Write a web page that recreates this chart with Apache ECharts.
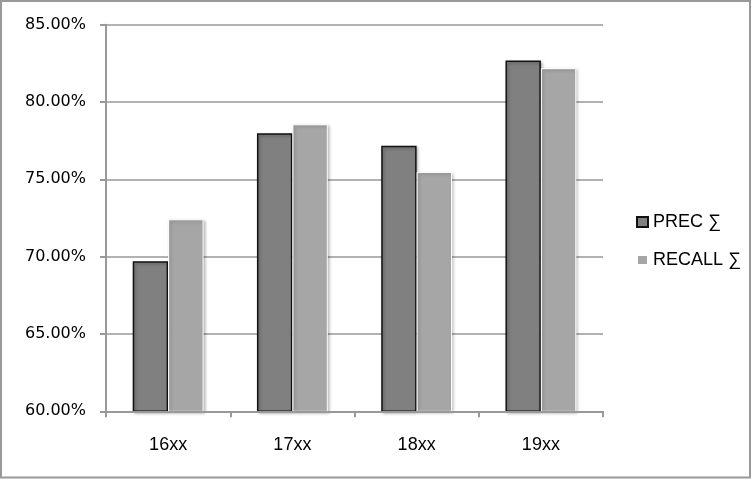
<!DOCTYPE html>
<html>
<head>
<meta charset="utf-8">
<script src="https://cdn.jsdelivr.net/npm/echarts@6/dist/echarts.min.js"></script>
<style>
html,body{margin:0;padding:0;background:#fff;}
#chart{width:753px;height:481px;}
</style>
</head>
<body>
<div id="chart"></div>
<script>
const categories = ['16xx', '17xx', '18xx', '19xx'];
const precValues = [69.70, 77.98, 77.18, 82.68];
const recallValues = [72.42, 78.56, 75.48, 82.19];
const seriesNames = ['PREC ∑', 'RECALL ∑'];

const sans = '"Liberation Sans", Arial, sans-serif';
const chart = echarts.init(document.getElementById('chart'));
chart.setOption({
  animation: false,
  backgroundColor: '#fff',
  grid: {left: 106, right: 150, top: 24.7, bottom: 69.7, containLabel: false},
  graphic: [{
    type: 'rect', shape: {x: 1, y: 1, width: 749, height: 476.5},
    style: {fill: 'none', stroke: '#999', lineWidth: 2}, z: 100
  }],
  legend: {
    orient: 'vertical', left: 636, top: 213, padding: 0, itemWidth: 11, itemHeight: 10, itemGap: 20,
    icon: 'rect',
    textStyle: {fontFamily: sans, fontSize: 18, lineHeight: 18, color: '#000'},
    data: seriesNames
  },
  xAxis: {
    type: 'category', data: categories, z: 10,
    axisLine: {lineStyle: {color: '#999', width: 2}},
    axisTick: {show: true, length: 6, lineStyle: {color: '#999', width: 2}},
    axisLabel: {fontFamily: sans, fontSize: 18, color: '#000', margin: 25}
  },
  yAxis: {
    type: 'value', min: 60, max: 85, interval: 5,
    axisLine: {show: true, lineStyle: {color: '#999', width: 2}},
    axisTick: {show: true, length: 6, lineStyle: {color: '#999', width: 2}},
    splitLine: {lineStyle: {color: '#999', width: 1.5}},
    axisLabel: {fontFamily: '"DejaVu Sans", sans-serif', fontSize: 16, color: '#000', margin: 20,
      padding: [4, 0, 0, 0],
      formatter: v => v.toFixed(2) + '%'}
  },
  series: [
    {
      name: seriesNames[0], type: 'bar', data: precValues, barGap: '0%', barCategoryGap: '43%',
      itemStyle: {color: '#808080', borderColor: '#111', borderWidth: 1.5,
        shadowColor: 'rgba(0,0,0,0.3)', shadowBlur: 3, shadowOffsetX: 1.5, shadowOffsetY: 1.5}
    },
    {
      name: seriesNames[1], type: 'bar', data: recallValues,
      itemStyle: {color: '#a6a6a6', borderColor: '#fff', borderWidth: 1,
        shadowColor: 'rgba(0,0,0,0.25)', shadowBlur: 3, shadowOffsetX: 1.5, shadowOffsetY: 1.5}
    }
  ]
});
</script>
</body>
</html>
